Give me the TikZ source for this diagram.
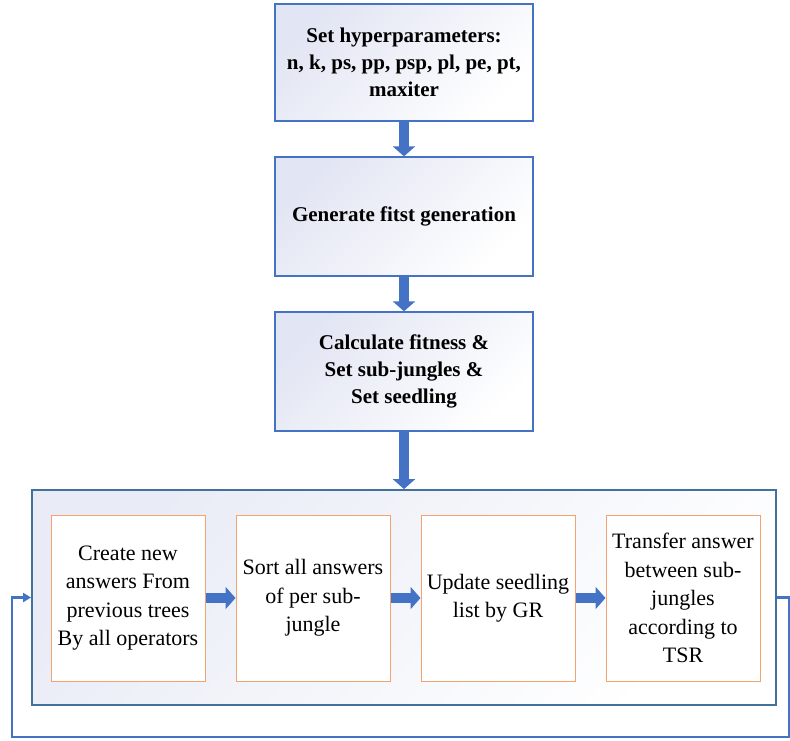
\documentclass[tikz,border=0pt]{standalone}
\usepackage{fontspec}
\setmainfont{Liberation Serif}[BoldFont={Liberation Serif Bold}]
\usetikzlibrary{arrows.meta}
\definecolor{bblue}{RGB}{68,114,196}
\definecolor{oblue}{RGB}{65,113,156}
\definecolor{lav}{RGB}{226,229,243}
\definecolor{lavo}{RGB}{233,236,246}
\definecolor{orng}{RGB}{244,163,112}
\begin{document}
\begin{tikzpicture}[x=1pt,y=-1pt,
  topbox/.style={draw=bblue, line width=1.3pt, inner sep=0pt, minimum width=258pt,
    top color=lav, bottom color=white, shading angle=45, align=center,
    font=\fontsize{21}{27}\selectfont\bfseries},
  outerbox/.style={draw=oblue, line width=1.8pt, inner sep=0pt, minimum width=744pt, minimum height=215pt,
    top color=lavo, bottom color=white, shading angle=45},
  stepbox/.style={draw=orng, line width=1pt, fill=white, inner sep=0pt, minimum width=154pt,
    minimum height=166pt, align=center, font=\fontsize{22}{28.5}\selectfont},
  bigarrow/.style={draw=bblue, line width=10.5pt, -{Triangle[width=22pt,length=10pt]}},
  fb/.style={draw=bblue, line width=2.6pt, -{Triangle[width=9pt,length=8pt]}}
]
\useasboundingbox (0,0) rectangle (790,740);
\node[topbox, minimum height=117pt] (b1) at (404,62.5)
  {Set hyperparameters:\\n, k, ps, pp, psp, pl, pe, pt,\\maxiter};
\node[topbox, minimum height=119pt] (b2) at (404,216.5) {Generate fitst generation};
\node[topbox, minimum height=119pt] (b3) at (404,371.5)
  {Calculate fitness \&\\Set sub-jungles \&\\Set seedling};
\node[outerbox] (outer) at (404,597.5) {};
\node[stepbox] (s1) at (128,598) {Create new\\answers From\\previous trees\\By all operators};
\node[stepbox] (s2) at (313,598) {Sort all answers\\of per sub-\\jungle};
\node[stepbox] (s3) at (498,598) {Update seedling\\list by GR};
\node[stepbox] (s4) at (683,598) {Transfer answer\\between sub-\\jungles\\according to\\TSR};
\draw[bigarrow] (b1.south) -- (b2.north);
\draw[bigarrow] (b2.south) -- (b3.north);
\draw[bigarrow] (b3.south) -- (outer.north);
\draw[bigarrow] (s1.east) -- (s2.west);
\draw[bigarrow] (s2.east) -- (s3.west);
\draw[bigarrow] (s3.east) -- (s4.west);
\coordinate (r1) at (789,737);
\coordinate (l1) at (12,737);
\draw[fb] (outer.east) -| (r1) -- (l1) |- (outer.west);
\end{tikzpicture}
\end{document}
